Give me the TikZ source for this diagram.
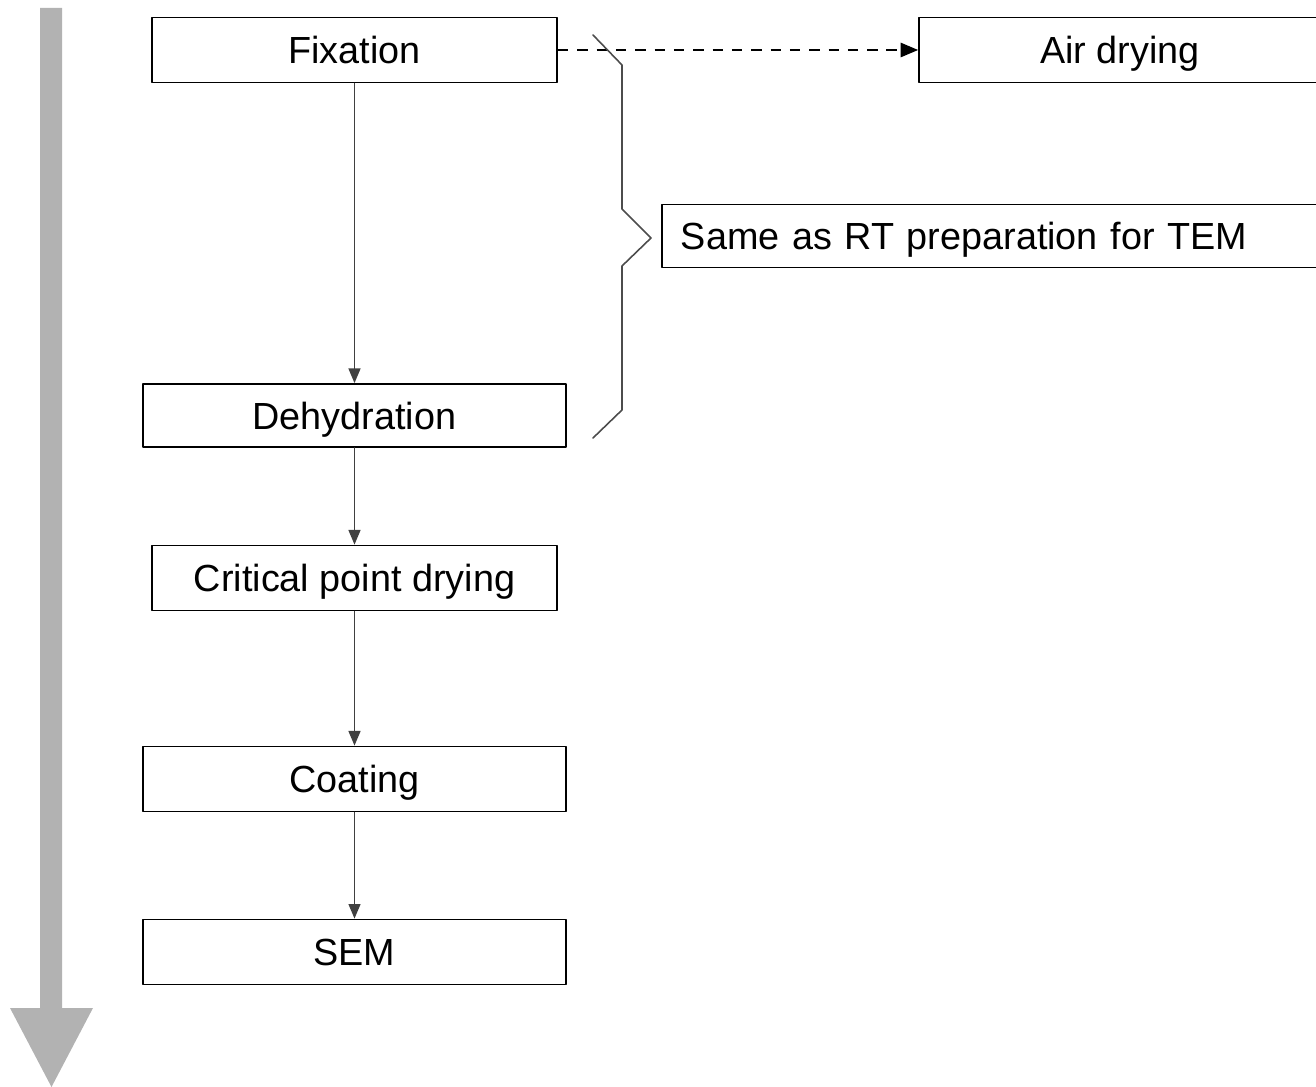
\documentclass[tikz,border=0pt]{standalone}
\usepackage{fontspec}
\setmainfont{Liberation Sans}
\usetikzlibrary{arrows}

\begin{document}
\begin{tikzpicture}[line cap=round,line join=round,>=triangle 45,x=0.02cm,y=-0.02cm,
	stage/.style={draw,line width=1.1pt,minimum height=1.3cm,inner sep=0pt,text height=15.5pt,text depth=0pt,font=\fontsize{21.5}{26}\selectfont}]
			\clip(0,0) rectangle (1316,1087);
			\fill [color=black!30] (40,8) -- (62,8) -- (62,1008) -- (93,1008) -- (51.5,1087) -- (10,1008) -- (40,1008) -- cycle;
			\node[stage,minimum width=8.1cm] (fix) at (354.5,50) {Fixation};
			\node[stage,minimum width=8.04cm] (air) at (1120,50) {Air drying};
			\node[stage,anchor=west,minimum height=1.26cm,text width=13cm,inner xsep=0.38cm,align=left] (same) at (661,236) {Same as RT preparation for TEM};
			\node[stage,minimum width=8.46cm,minimum height=1.26cm] (dehyd) at (354.5,415.5) {Dehydration};
			\node[stage,minimum width=8.1cm] (cpd) at (354.5,578) {Critical point drying};
			\node[stage,minimum width=8.46cm] (coat) at (354.5,779) {Coating};
			\node[stage,minimum width=8.46cm] (sem) at (354.5,952) {SEM};
			\draw [->,line width=0.9pt,color=black!75] (fix) -- (dehyd);
			\draw [->,line width=0.9pt,color=black!75] (dehyd) -- (cpd);
			\draw [->,line width=0.9pt,color=black!75] (cpd) -- (coat);
			\draw [->,line width=0.9pt,color=black!75] (coat) -- (sem);
			\draw [->,line width=1.3pt,line cap=butt,dash pattern=on 6pt off 5pt] (fix) -- (air);
			\draw [line width=0.9pt,color=black!70] (593,35) -- (622,65) -- (622,209) -- (651,238) -- (622,266) -- (622,410) -- (593,438);
		\end{tikzpicture}
\end{document}
